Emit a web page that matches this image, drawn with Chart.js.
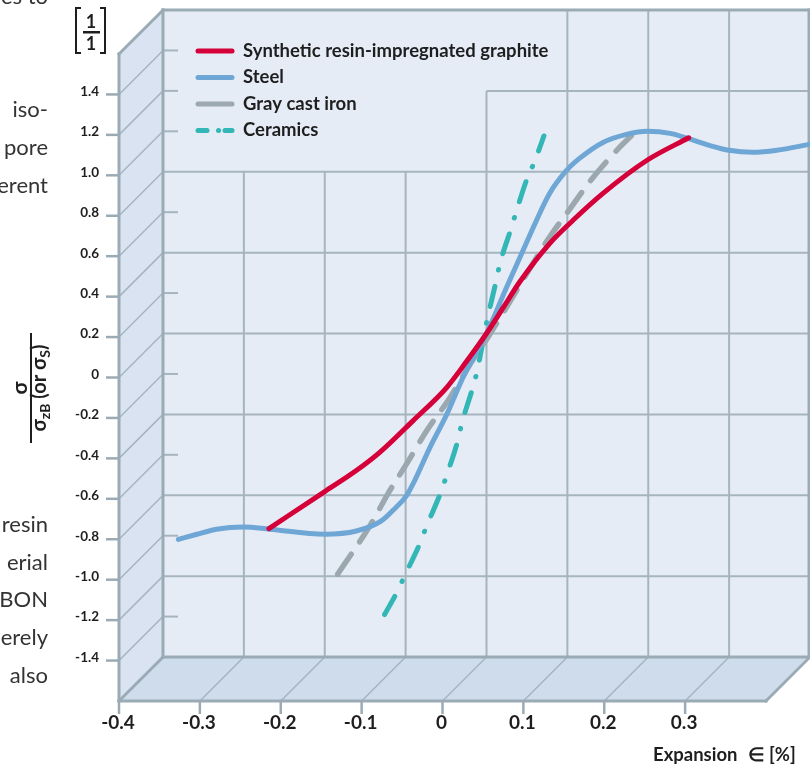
<!DOCTYPE html>
<html>
<head>
<meta charset="utf-8">
<title>Stress-strain behaviour</title>
<script src="https://cdn.jsdelivr.net/npm/chart.js@4.4.0/dist/chart.umd.min.js"></script>
<style>
  html, body { margin: 0; padding: 0; background: #fff; }
  #chart { display: block; }
</style>
</head>
<body>
<canvas id="chart" width="810" height="765"></canvas>
<script>
// series names (legend order)
const seriesNames = ['Synthetic resin-impregnated graphite', 'Steel', 'Gray cast iron', 'Ceramics'];

const graphiteX = [-0.269, -0.2, -0.161, -0.132, -0.091, -0.049, -0.025, 0, 0.021, 0.041, 0.078, 0.107, 0.144, 0.199, 0.25];
const graphiteY = [-0.965, -0.782, -0.678, -0.588, -0.432, -0.266, -0.14, 0, 0.13, 0.255, 0.445, 0.56, 0.693, 0.858, 0.968];

const steelX = [-0.381, -0.358, -0.334, -0.3, -0.268, -0.2, -0.161, -0.13, -0.112, -0.099, -0.091, -0.07, -0.049, -0.029, 0, 0.025, 0.049, 0.078, 0.099, 0.115, 0.144, 0.173, 0.199, 0.227, 0.249, 0.276, 0.3, 0.329, 0.359, 0.4];
const steelY = [-1.018, -0.993, -0.968, -0.957, -0.968, -0.993, -0.977, -0.927, -0.86, -0.803, -0.745, -0.564, -0.399, -0.217, 0, 0.23, 0.445, 0.693, 0.807, 0.866, 0.945, 0.985, 1.0, 0.99, 0.965, 0.93, 0.906, 0.896, 0.906, 0.936];

const castIronX = [-0.184, -0.144, -0.12, -0.099, -0.074, -0.045, -0.02, 0, 0.062, 0.078, 0.099, 0.129, 0.165, 0.179];
const castIronY = [-1.19, -0.95, -0.78, -0.646, -0.481, -0.316, -0.15, -0.03, 0.376, 0.477, 0.593, 0.758, 0.923, 0.978];

const ceramicsX = [-0.126, -0.11, -0.102, -0.082, -0.075, -0.056, -0.05, -0.035, -0.031, -0.017, -0.012, 0.001, 0.012, 0.016, 0.031, 0.036, 0.051, 0.059, 0.071];
const ceramicsY = [-1.39, -1.274, -1.205, -1.035, -0.962, -0.78, -0.71, -0.522, -0.452, -0.267, -0.193, 0.071, 0.261, 0.336, 0.527, 0.593, 0.775, 0.846, 0.977];

// tick labels on the front edge of the box
const xTickValues = [-0.4, -0.3, -0.2, -0.1, 0, 0.1, 0.2, 0.3];
const xTickLabels = ['-0.4', '-0.3', '-0.2', '-0.1', '0', '0.1', '0.2', '0.3'];
const yTickValues = [1.4, 1.2, 1.0, 0.8, 0.6, 0.4, 0.2, 0, -0.2, -0.4, -0.6, -0.8, -1.0, -1.2, -1.4];
const yTickLabels = ['1.4', '1.2', '1.0', '0.8', '0.6', '0.4', '0.2', '0', '-0.2', '-0.4', '-0.6', '-0.8', '-1.0', '-1.2', '-1.4'];

// line endings of the surrounding page text, cut off by the picture
const pageLines = ['es to', '', '', 'iso-', 'pore', 'erent', '', '', '', '', '', '', '', '', 'resin', 'erial', 'BON', 'erely', 'also'];

const FONT = 'Lato, "Open Sans", sans-serif';
const HEAVY = 'bold ';
const DEPTH = 44; // px offset between back wall and front edge
const frameColor = '#9aabb5';
const gridColor = '#a6b4be';

const toPoints = (xs, ys) => xs.map((x, i) => ({ x: x, y: ys[i] }));

const line = (ctx, x1, y1, x2, y2) => {
    ctx.beginPath();
    ctx.moveTo(x1, y1);
    ctx.lineTo(x2, y2);
    ctx.stroke();
};

const poly = (ctx, pts, fill) => {
    ctx.beginPath();
    pts.forEach((p, i) => i ? ctx.lineTo(p[0], p[1]) : ctx.moveTo(p[0], p[1]));
    ctx.closePath();
    ctx.fillStyle = fill;
    ctx.fill();
};

// walls, floor, grid and frame of the 3d box
const boxPlugin = {
    id: 'box',
    beforeDraw(chart) {
        const { ctx, chartArea: a, scales: { x, y } } = chart;
        const fl = a.left - DEPTH;     // front left
        const fb = a.bottom + DEPTH;   // front bottom
        ctx.save();
        ctx.fillStyle = '#e6ecf6';
        ctx.fillRect(a.left, a.top, a.right - a.left, a.bottom - a.top);
        poly(ctx, [[fl, a.top + DEPTH], [a.left, a.top], [a.left, a.bottom], [fl, fb]], '#d9e3f1');
        poly(ctx, [[fl, fb], [a.left, a.bottom], [a.right, a.bottom], [a.right - DEPTH, fb]], '#cfdcec');

        // back wall grid
        ctx.strokeStyle = gridColor;
        ctx.lineWidth = 2;
        yTickValues.forEach((v) => {
            const py = y.getPixelForValue(v);
            const k = Math.round(v * 10);
            if (Math.abs(v) <= 1.21 && k % 4 === 0 && v < 1) {
                line(ctx, a.left, py, a.right, py);
            } else {
                line(ctx, a.left, py, a.left + 15, py);
                if (k === 12) line(ctx, x.getPixelForValue(0), py, a.right, py);
            }
        });
        xTickValues.forEach((v) => {
            if (v <= -0.4) return;
            const px = x.getPixelForValue(v);
            const top = v < -0.001 ? y.getPixelForValue(0.8) : (v < 0.001 ? y.getPixelForValue(1.2) : a.top);
            line(ctx, px, top, px, a.bottom);
        });

        // thin diagonals on side wall and floor
        ctx.lineWidth = 1.5;
        yTickValues.forEach((v) => {
            const py = y.getPixelForValue(v);
            line(ctx, fl, py + DEPTH, a.left, py);
        });
        xTickValues.forEach((v) => {
            if (v <= -0.4) return;
            const px = x.getPixelForValue(v);
            line(ctx, px - DEPTH, fb, px, a.bottom);
        });

        // frame
        ctx.strokeStyle = frameColor;
        ctx.lineWidth = 3;
        ctx.lineCap = 'square';
        line(ctx, a.left, a.top, a.right - 1, a.top);
        line(ctx, a.right - 1, a.top, a.right - 1, a.bottom);
        line(ctx, a.left, a.top, a.left, a.bottom);
        line(ctx, a.left, a.bottom, a.right, a.bottom);
        line(ctx, fl, a.top + DEPTH, a.left, a.top);
        line(ctx, fl, a.top + DEPTH, fl, fb);
        line(ctx, fl, fb, a.right - DEPTH, fb);
        line(ctx, fl, fb, a.left, a.bottom);
        line(ctx, a.right - DEPTH, fb, a.right, a.bottom);

        // front ticks
        ctx.lineCap = 'butt';
        ctx.lineWidth = 2.5;
        yTickValues.forEach((v) => {
            const py = y.getPixelForValue(v) + DEPTH;
            line(ctx, fl - 13, py, fl, py);
        });
        xTickValues.forEach((v) => {
            const px = x.getPixelForValue(v) - DEPTH;
            line(ctx, px, fb, px, fb + 13);
        });
        ctx.restore();
    }
};

const drawYTitle = (ctx) => {
    ctx.save();
    ctx.translate(31, 388);
    ctx.rotate(-Math.PI / 2);
    ctx.fillStyle = '#1e1e1e';
    ctx.textBaseline = 'alphabetic';
    ctx.textAlign = 'center';
    ctx.font = HEAVY + '21px ' + FONT;
    ctx.fillText('σ', 0, -4);
    ctx.fillRect(-55, -1, 110, 2);
    // denominator, subscripts flagged
    const parts = [['σ', false], ['zB', true], [' (or ', false], ['σ', false], ['S', true], [')', false]];
    const big = HEAVY + '20px ' + FONT;
    const small = HEAVY + '14px ' + FONT;
    let total = 0;
    parts.forEach((p) => { ctx.font = p[1] ? small : big; total += ctx.measureText(p[0]).width; });
    let cx = -total / 2;
    ctx.textAlign = 'left';
    parts.forEach((p) => {
        ctx.font = p[1] ? small : big;
        ctx.fillText(p[0], cx, p[1] ? 19 : 15);
        cx += ctx.measureText(p[0]).width;
    });
    ctx.restore();
};

// labels, titles and legend
const labelPlugin = {
    id: 'labels',
    afterDraw(chart) {
        const { ctx, chartArea: a, scales: { x, y } } = chart;
        ctx.save();
        ctx.fillStyle = '#1e1e1e';

        ctx.font = HEAVY + '13.5px ' + FONT;
        ctx.textAlign = 'right';
        ctx.textBaseline = 'middle';
        yTickValues.forEach((v, i) => {
            ctx.fillText(yTickLabels[i], a.left - DEPTH - 20, y.getPixelForValue(v) + DEPTH - 3);
        });

        ctx.font = HEAVY + '19px ' + FONT;
        ctx.textAlign = 'center';
        xTickValues.forEach((v, i) => {
            ctx.fillText(xTickLabels[i], x.getPixelForValue(v) - DEPTH - 1, a.bottom + DEPTH + 22);
        });

        // axis title bottom right
        ctx.font = HEAVY + '18.5px ' + FONT;
        ctx.textAlign = 'left';
        ctx.fillText('Expansion', 653, 755);
        ctx.fillText('∈ [%]', 653 + ctx.measureText('Expansion').width + 10, 755);

        // unit fraction top left
        ctx.font = HEAVY + '18px ' + FONT;
        ctx.textAlign = 'center';
        ctx.fillText('1', 91, 22);
        ctx.fillText('1', 91, 44);
        ctx.fillRect(83, 31, 17, 2.5);
        ctx.strokeStyle = '#1e1e1e';
        ctx.lineWidth = 2;
        ctx.beginPath();
        ctx.moveTo(81, 8); ctx.lineTo(76, 8); ctx.lineTo(76, 53); ctx.lineTo(81, 53);
        ctx.moveTo(100, 8); ctx.lineTo(105, 8); ctx.lineTo(105, 53); ctx.lineTo(100, 53);
        ctx.stroke();

        drawYTitle(ctx);

        // surrounding page text
        ctx.font = '22px ' + FONT;
        ctx.fillStyle = '#333';
        ctx.textAlign = 'right';
        ctx.textBaseline = 'alphabetic';
        pageLines.forEach((t, i) => { if (t) ctx.fillText(t, 48, 4 + i * 37.7); });

        // legend
        ctx.textAlign = 'left';
        ctx.textBaseline = 'middle';
        ctx.font = HEAVY + '18.5px ' + FONT;
        ctx.lineCap = 'round';
        chart.data.datasets.forEach((ds, i) => {
            const ly = a.top + 41 + i * 26.5;
            ctx.strokeStyle = ds.borderColor;
            ctx.lineWidth = 5;
            if (ds.borderDash && ds.borderDash.length === 4) {
                line(ctx, 198, ly, 207, ly);
                line(ctx, 218.5, ly, 218.6, ly);
                line(ctx, 225, ly, 232, ly);
            } else {
                line(ctx, 198, ly, 232, ly);
            }
            ctx.fillStyle = '#1e1e1e';
            ctx.fillText(ds.label, 243, ly);
        });
        ctx.restore();
    }
};

window.onload = () => {
    const lineStyle = { pointRadius: 0, borderWidth: 5, borderCapStyle: 'round', borderJoinStyle: 'round', cubicInterpolationMode: 'monotone', fill: false };
    const data = {
        datasets: [
            Object.assign({ label: seriesNames[0], data: toPoints(graphiteX, graphiteY), borderColor: '#d5003a' }, lineStyle),
            Object.assign({ label: seriesNames[1], data: toPoints(steelX, steelY), borderColor: '#6ea7d6' }, lineStyle),
            Object.assign({ label: seriesNames[2], data: toPoints(castIronX, castIronY), borderColor: '#9ba8ae' }, lineStyle, { borderDash: [24, 15], borderWidth: 5.5 }),
            Object.assign({ label: seriesNames[3], data: toPoints(ceramicsX, ceramicsY), borderColor: '#32b6b6' }, lineStyle, { borderDash: [21, 16.5, 0.5, 16.5] })
        ]
    };
    const config = {
        type: 'line',
        data: data,
        options: {
            responsive: false,
            animation: false,
            devicePixelRatio: 1,
            layout: { padding: { left: 163, top: 10, right: 0, bottom: 108 } },
            scales: {
                x: { type: 'linear', min: -0.4, max: 0.4, display: false },
                y: { type: 'linear', min: -1.6, max: 1.6, display: false }
            },
            plugins: { legend: { display: false }, tooltip: { enabled: false } }
        },
        plugins: [boxPlugin, labelPlugin]
    };
    new Chart(document.getElementById('chart'), config);
};
</script>
</body>
</html>
